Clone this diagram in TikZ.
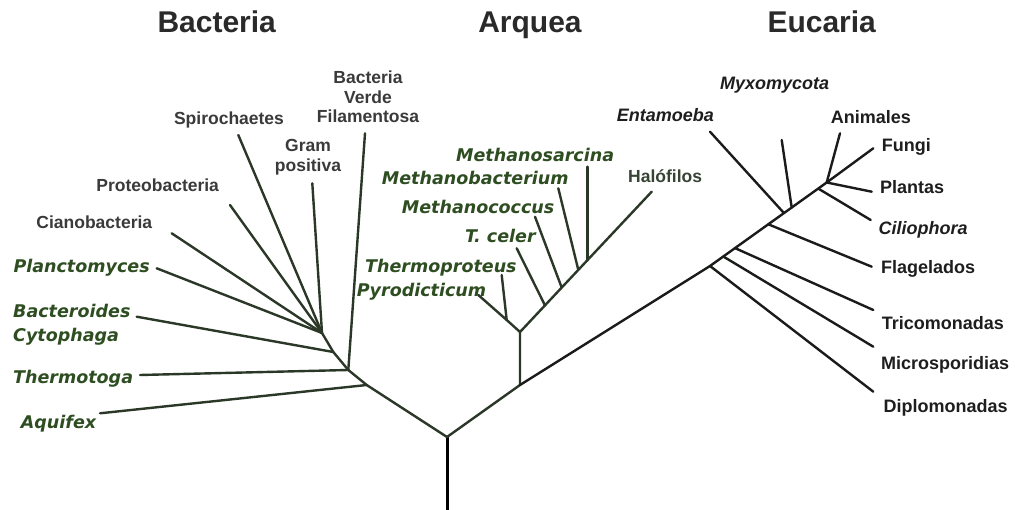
\documentclass[tikz,border=0pt]{standalone}
\usepackage{fontspec}
\setmainfont{Liberation Sans}
\newfontfamily\dvfont{DejaVu Sans}
\definecolor{brc}{RGB}{43,56,40}
\definecolor{ebrc}{RGB}{26,28,26}
\definecolor{ttlc}{RGB}{42,42,42}
\definecolor{blc}{RGB}{58,58,58}
\definecolor{elc}{RGB}{30,30,30}
\definecolor{glc}{RGB}{46,78,34}
\definecolor{halc}{RGB}{55,68,52}
\begin{document}
\begin{tikzpicture}[x=1pt,y=-1pt,
  branch/.style={line width=2.4pt,draw=brc,line cap=round,line join=round},
  ebranch/.style={line width=2.4pt,draw=ebrc,line cap=round,line join=round},
  rootline/.style={line width=3pt,draw=black},
  ttl/.style={font=\bfseries\fontsize{30}{32}\selectfont,text=ttlc,inner sep=0pt,anchor=base},
  blbl/.style={font=\bfseries\fontsize{17.5}{20}\selectfont,text=blc,inner sep=0pt,text height=12.6pt,text depth=3.5pt},
  elbl/.style={font=\bfseries\fontsize{18}{20}\selectfont,text=elc,inner sep=0pt,anchor=west,text height=12.9pt,text depth=3.6pt},
  eilbl/.style={elbl,font=\bfseries\itshape\fontsize{18}{20}\selectfont},
  glbl/.style={font=\dvfont\bfseries\itshape\fontsize{17.5}{20}\selectfont,text=glc,inner sep=0pt,anchor=west,text height=12.8pt,text depth=3.5pt},
]
\useasboundingbox (0,0) rectangle (1015,510);
\fill[white] (0,0) rectangle (1015,510);

% titles
\node[ttl] (tB) at (216.7,33) {Bacteria};
\node[ttl] (tA) at (530,33) {Arquea};
\node[ttl] (tE) at (821.7,33) {Eucaria};

% ---- tree coordinates
\coordinate (rb) at (447,510);
\coordinate (r) at (447,437);
% bacteria
\coordinate (jAq) at (366.7,385);
\coordinate (jTh) at (348.3,370);
\coordinate (jCy) at (333.3,352);
\coordinate (jSp) at (322,333);
\coordinate (pAq) at (100,413.3);
\coordinate (pTh) at (140,375);
\coordinate (pVe) at (365,133.3);
\coordinate (pCy) at (136.7,316.7);
\coordinate (pGr) at (312.3,183.3);
\coordinate (pPl) at (156.7,268.3);
\coordinate (pCi) at (171.7,233.3);
\coordinate (pPr) at (230,205);
\coordinate (pSp) at (238.3,135);
% archaea
\coordinate (jAr) at (520,385);
\coordinate (jAr2) at (520,332);
\coordinate (jPy) at (506.7,320);
\coordinate (pPy) at (478.3,295);
\coordinate (pTp) at (501.7,275);
\coordinate (pHa) at (651.7,191.7);
\coordinate (jTc) at (545,305.4);
\coordinate (jMc) at (561.7,287.6);
\coordinate (jMb) at (578.3,269.9);
\coordinate (jMs) at (587.3,260.3);
\coordinate (pTc) at (516.7,248.3);
\coordinate (pMc) at (535,216.7);
\coordinate (pMb) at (558.3,188.3);
\coordinate (pMs) at (587.3,166.7);
% eukarya
\coordinate (jDi) at (710,266);
\coordinate (jMi) at (723.3,256.5);
\coordinate (jTr) at (735,248.1);
\coordinate (jFl) at (768.3,224.3);
\coordinate (jEn) at (784,213.1);
\coordinate (jMy) at (791.7,207.6);
\coordinate (jCi) at (818.3,188.6);
\coordinate (jCr) at (826.7,182.5);
\coordinate (pDi) at (873.3,391.7);
\coordinate (pMi) at (873.3,346.7);
\coordinate (pTr) at (873.3,310);
\coordinate (pFl) at (871.7,266.7);
\coordinate (pEn) at (710,131.7);
\coordinate (pMy) at (781.7,140);
\coordinate (pCi2) at (870.7,220);
\coordinate (pAn) at (840,133.3);
\coordinate (pFu) at (873.3,148.3);
\coordinate (pPa) at (871.7,191.7);

% ---- branches
\draw[rootline] (rb) -- (r);
\draw[branch] (r) -- (jAq) -- (jTh) -- (jCy) -- (jSp);
\draw[branch] (jAq) -- (pAq);
\draw[branch] (jTh) -- (pTh);
\draw[branch] (jTh) -- (pVe);
\draw[branch] (jCy) -- (pCy);
\draw[branch] (jSp) -- (pGr);
\draw[branch] (jSp) -- (pPl);
\draw[branch] (jSp) -- (pCi);
\draw[branch] (jSp) -- (pPr);
\draw[branch] (jSp) -- (pSp);

\draw[branch] (r) -- (jAr);
\draw[branch] (jAr) -- (jAr2) -- (jPy) -- (pPy);
\draw[branch] (jPy) -- (pTp);
\draw[branch] (jAr2) -- (pHa);
\draw[branch] (jTc) -- (pTc);
\draw[branch] (jMc) -- (pMc);
\draw[branch] (jMb) -- (pMb);
\draw[branch] (jMs) -- (pMs);

\draw[ebranch] (jAr) -- (jDi) -- (jCr);
\draw[ebranch] (jDi) -- (pDi);
\draw[ebranch] (jMi) -- (pMi);
\draw[ebranch] (jTr) -- (pTr);
\draw[ebranch] (jFl) -- (pFl);
\draw[ebranch] (jEn) -- (pEn);
\draw[ebranch] (jMy) -- (pMy);
\draw[ebranch] (jCi) -- (pCi2);
\draw[ebranch] (jCr) -- (pAn);
\draw[ebranch] (jCr) -- (pFu);
\draw[ebranch] (jCr) -- (pPa);

% ---- bacteria labels
\node[blbl,align=center,text height=,text depth=] (lVe) at (368,97) {Bacteria\\[-0.5pt]Verde\\[-0.5pt]Filamentosa};
\node[blbl] (lSp) at (229,120) {Spirochaetes};
\node[blbl,align=center,text height=,text depth=] (lGr) at (308,157) {Gram\\[-0.5pt]positiva};
\node[blbl] (lPr) at (157.7,186.7) {Proteobacteria};
\node[blbl] (lCi) at (94.3,224.3) {Cianobacteria};
\node[glbl] (lPl) at (13.3,268.3) {Planctomyces};
\node[glbl] (lBa) at (13,313.3) {Bacteroides};
\node[glbl] (lCy) at (13,336.7) {Cytophaga};
\node[glbl] (lTh) at (13,379.3) {Thermotoga};
\node[glbl] (lAq) at (20.7,424.3) {Aquifex};

% ---- archaea labels
\node[glbl] (lMs) at (456,156.7) {Methanosarcina};
\node[glbl] (lMb) at (381.7,180) {Methanobacterium};
\node[glbl] (lMc) at (401.7,209.3) {Methanococcus};
\node[glbl] (lTc) at (465,238.3) {T. celer};
\node[glbl] (lTp) at (365,268.3) {Thermoproteus};
\node[glbl] (lPy) at (356.7,291.7) {Pyrodicticum};
\node[elbl,text=halc,font=\bfseries\fontsize{17.5}{20}\selectfont] (lHa) at (628,178.3) {Halófilos};

% ---- eukarya labels
\node[eilbl] (lMy) at (720,85) {Myxomycota};
\node[eilbl] (lEn) at (616.7,116.7) {Entamoeba};
\node[elbl] (lAn) at (830.7,119.3) {Animales};
\node[elbl] (lFu) at (881.7,146.7) {Fungi};
\node[elbl] (lPa) at (880,189.3) {Plantas};
\node[eilbl] (lCi2) at (878.3,230) {Ciliophora};
\node[elbl] (lFl) at (881,269) {Flagelados};
\node[elbl] (lTr) at (881.7,325) {Tricomonadas};
\node[elbl] (lMi) at (881,365) {Microsporidias};
\node[elbl] (lDi) at (883.3,408.3) {Diplomonadas};
\end{tikzpicture}
\end{document}
